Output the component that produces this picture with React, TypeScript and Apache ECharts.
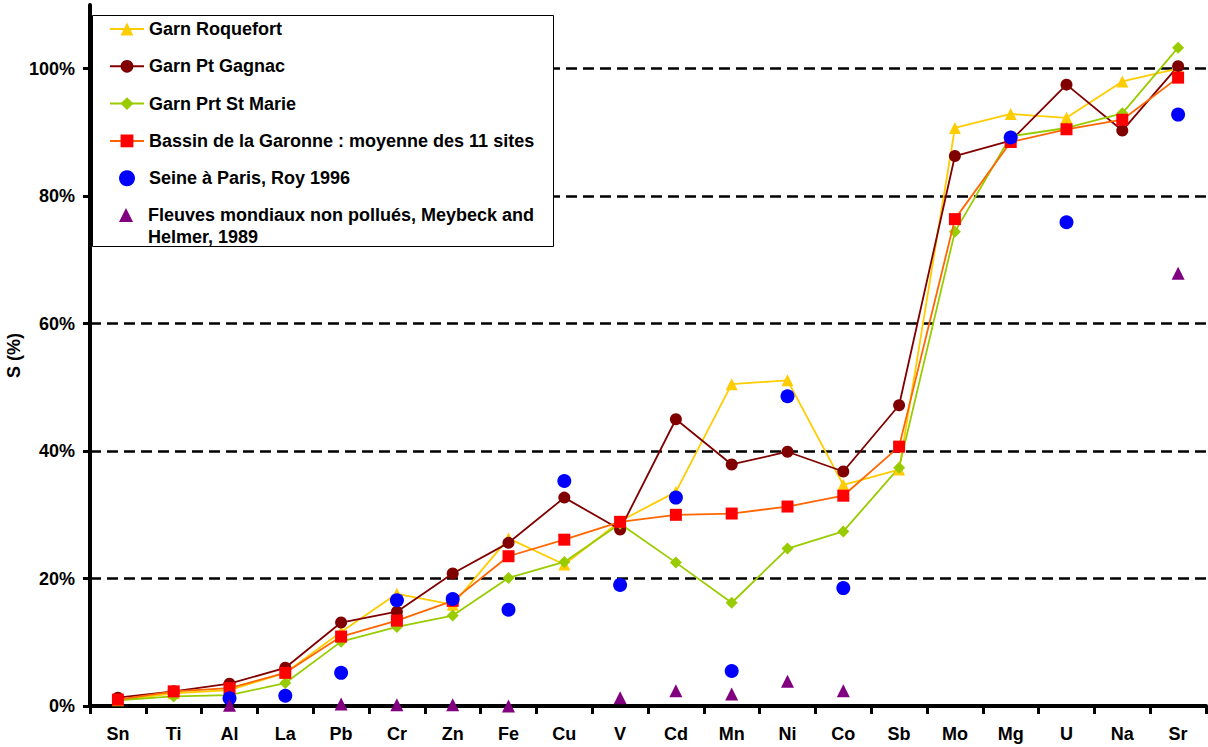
import React, { useEffect, useRef } from "react";
import * as echarts from "echarts";

const categories = ["Sn", "Ti", "Al", "La", "Pb", "Cr", "Zn", "Fe", "Cu", "V", "Cd", "Mn", "Ni", "Co", "Sb", "Mo", "Mg", "U", "Na", "Sr"];

const roquefort = [0.9, 2.0, 2.5, 5.2, 11.6, 17.6, 15.9, 26.3, 22.2, 29.0, 33.6, 50.5, 51.1, 34.7, 37.1, 90.7, 92.9, 92.3, 98.0, 100.0];
const gagnac = [1.3, 2.3, 3.5, 6.0, 13.1, 14.8, 20.8, 25.6, 32.7, 27.7, 45.0, 37.9, 39.9, 36.8, 47.2, 86.3, 88.7, 97.5, 90.3, 100.4];
const stMarie = [0.9, 1.5, 1.7, 3.6, 10.1, 12.4, 14.2, 20.1, 22.6, 28.6, 22.5, 16.2, 24.7, 27.4, 37.4, 74.4, 89.4, 90.7, 93.0, 103.3];
const bassin = [1.0, 2.3, 2.8, 5.2, 10.9, 13.4, 16.5, 23.5, 26.1, 28.9, 30.0, 30.2, 31.3, 33.0, 40.7, 76.4, 88.5, 90.5, 92.0, 98.6];
const seine = [null, null, 1.2, 1.6, 5.2, 16.6, 16.8, 15.1, 35.3, 19.0, 32.7, 5.5, 48.6, 18.5, null, null, 89.2, 75.9, null, 92.8];
const meybeck = [null, null, 0.1, null, 0.3, 0.2, 0.2, 0.0, null, 1.3, 2.4, 1.9, 3.9, 2.4, null, null, null, null, null, 67.9];

const yTicks = [0, 20, 40, 60, 80, 100];
const gridLines = [20, 40, 60, 80, 100];

const seriesNames = [
  "Garn Roquefort",
  "Garn Pt Gagnac",
  "Garn Prt St Marie",
  "Bassin de la Garonne : moyenne des 11 sites",
  "Seine à Paris, Roy 1996",
  "Fleuves mondiaux non pollués, Meybeck and\nHelmer, 1989",
];

const FONT = "'Liberation Sans', Arial, sans-serif";
const FS = 18;

function pairs(vals: (number | null)[]) {
  const out: [string, number][] = [];
  vals.forEach((v, i) => {
    if (v !== null) out.push([categories[i], v]);
  });
  return out;
}

export default function App() {
  const ref = useRef<HTMLDivElement>(null);
  useEffect(() => {
    if (!ref.current) return;
    const chart = echarts.init(ref.current, null, { renderer: "svg" });
    const legendText = {
      fontFamily: FONT,
      fontSize: FS,
      fontWeight: "bold",
      color: "#000",
      lineHeight: 20,
    };
    chart.setOption({
      animation: false,
      backgroundColor: "#fff",
      grid: { left: 90, right: 2, top: 5, bottom: 41, containLabel: false, outerBoundsMode: "none" },
      graphic: [
        {
          type: "rect",
          z: 10,
          shape: { x: 92.5, y: 15.5, width: 461, height: 231 },
          style: { fill: "#fff", stroke: "#000", lineWidth: 1 },
        },
      ],
      legend: [
        {
          orient: "vertical",
          left: 109,
          top: 19,
          padding: 0,
          itemGap: 17.3,
          itemWidth: 34,
          itemHeight: 16,
          z: 20,
          data: seriesNames.slice(0, 5),
          textStyle: legendText,
        },
        {
          orient: "vertical",
          left: 119,
          top: 182,
          padding: 0,
          itemWidth: 14,
          itemHeight: 14,
          z: 20,
          data: seriesNames.slice(5),
          formatter: (name: string) => "\n" + name,
          textStyle: { ...legendText, lineHeight: 22, padding: [0, 0, 0, 10] },
        },
      ],
      xAxis: {
        type: "category",
        data: categories,
        boundaryGap: true,
        axisLine: { lineStyle: { color: "#000", width: 4 } },
        axisTick: { show: true, interval: 0, length: 8, lineStyle: { color: "#000", width: 3 } },
        axisLabel: {
          interval: 0,
          margin: 19,
          fontFamily: FONT,
          fontSize: FS,
          fontWeight: "bold",
          color: "#000",
        },
        splitLine: { show: false },
      },
      yAxis: {
        type: "value",
        min: 0,
        max: 110,
        interval: 20,
        name: "S (%)",
        nameLocation: "middle",
        nameGap: 67,
        nameMoveOverlap: false,
        nameRotate: 90,
        nameTextStyle: { fontFamily: FONT, fontSize: FS, fontWeight: "bold", color: "#000" },
        axisLine: { show: true, lineStyle: { color: "#000", width: 4 } },
        axisTick: { show: true, length: 7, lineStyle: { color: "#000", width: 3 }, customValues: yTicks },
        axisLabel: {
          margin: 15,
          fontFamily: FONT,
          fontSize: FS,
          fontWeight: "bold",
          color: "#000",
          customValues: yTicks,
          formatter: (v: number) => (v > 100 ? "" : v + "%"),
        },
        splitLine: { show: false },
      },
      series: [
        {
          name: seriesNames[0],
          type: "line",
          data: roquefort,
          symbol: "triangle",
          symbolSize: 12,
          itemStyle: { color: "#FFCC00" },
          lineStyle: { color: "#FFCC00", width: 1.8 },
          z: 3,
          markLine: {
            silent: true,
            symbol: "none",
            z: 1,
            label: { show: false },
            lineStyle: { color: "#000", width: 2.5, type: [11, 6] },
            data: gridLines.map((v) => ({ yAxis: v })),
          },
        },
        {
          name: seriesNames[1],
          type: "line",
          data: gagnac,
          symbol: "circle",
          symbolSize: 12,
          itemStyle: { color: "#800000" },
          lineStyle: { color: "#800000", width: 1.8 },
          z: 3,
        },
        {
          name: seriesNames[2],
          type: "line",
          data: stMarie,
          symbol: "diamond",
          symbolSize: 12,
          itemStyle: { color: "#99CC00" },
          lineStyle: { color: "#99CC00", width: 1.8 },
          z: 3,
        },
        {
          name: seriesNames[3],
          type: "line",
          data: bassin,
          symbol: "rect",
          symbolSize: 12,
          itemStyle: { color: "#FF0000" },
          lineStyle: { color: "#FF6600", width: 1.8 },
          z: 4,
        },
        {
          name: seriesNames[4],
          type: "scatter",
          data: pairs(seine),
          symbol: "circle",
          symbolSize: 14,
          itemStyle: { color: "#0000FF", opacity: 1 },
          z: 5,
        },
        {
          name: seriesNames[5],
          type: "scatter",
          data: pairs(meybeck),
          symbol: "triangle",
          symbolSize: 13,
          itemStyle: { color: "#800080", opacity: 1 },
          z: 5,
        },
      ],
    });
    return () => chart.dispose();
  }, []);
  return (
    <div
      ref={ref}
      style={{ position: "fixed", left: 0, top: 0, width: 1208, height: 747, background: "#fff" }}
    />
  );
}
